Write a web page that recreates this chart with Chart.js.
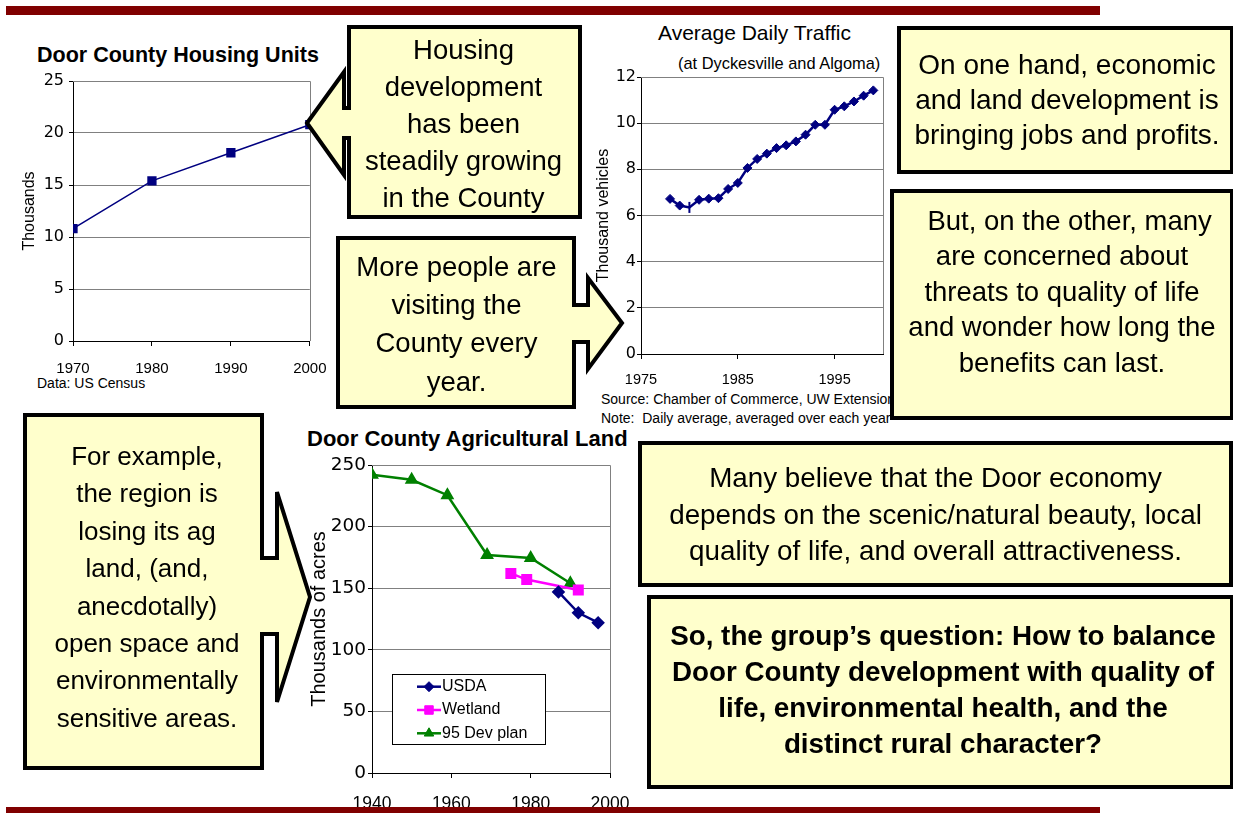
<!DOCTYPE html>
<html lang="en">
<head>
    <meta charset="UTF-8">
    <title>Door County Development</title>
    <script src="https://cdn.jsdelivr.net/npm/chart.js@4"></script>
    <style>
        body {
            margin: 0;
            width: 1233px;
            height: 813px;
            overflow: hidden;
            background: #fff;
            position: relative;
            font-family: 'Liberation Sans', Arial, sans-serif;
            color: #000;
        }
        canvas, .lbl, .txt, .bar, svg { position: absolute; }
        canvas { z-index: 1; }
        .lbl { z-index: 1; white-space: pre; line-height: 1; }
        svg { left: 0; top: 0; z-index: 2; }
        .txt { z-index: 3; text-align: center; white-space: nowrap; }
        .bar { z-index: 4; background: #800000; left: 6px; width: 1094px; }
    </style>
</head>
<body>
    <div class="bar" style="top:6px; height:9px"></div>
    <div class="bar" style="top:807px; height:6px"></div>

    <!-- chart titles and notes -->
    <div class="lbl" style="left:37px; top:45px; font-size:21.5px; font-weight:bold">Door County Housing Units</div>
    <div class="lbl" style="left:37px; top:376px; font-size:14px">Data: US Census</div>
    <div class="lbl" style="left:658px; top:22px; font-size:21px">Average Daily Traffic</div>
    <div class="lbl" style="left:678px; top:55px; font-size:16.4px">(at Dyckesville and Algoma)</div>
    <div class="lbl" style="left:601px; top:392px; font-size:14px">Source: Chamber of Commerce, UW Extension</div>
    <div class="lbl" style="left:601px; top:410.5px; font-size:14px">Note:  Daily average, averaged over each year</div>
    <div class="lbl" style="left:307px; top:428px; font-size:22px; font-weight:bold">Door County Agricultural Land</div>

    <canvas id="housingChart" width="340" height="340" style="left:0; top:60px"></canvas>
    <canvas id="trafficChart" width="310" height="380" style="left:590px; top:20px"></canvas>
    <canvas id="agChart" width="355" height="363" style="left:290px; top:450px"></canvas>

    <!-- callout shapes -->
    <svg width="1233" height="813">
        <g fill="#FFFFCC" stroke="#000" stroke-width="4" stroke-linejoin="miter">
            <path d="M349,27 H580 V217 H349 V138 H344 V175 L307,123 L344,72 V108 H349 Z"/>
            <path d="M338,238 H574 V305 H588 V278 L622,323 L588,369 V342 H574 V407 H338 Z"/>
            <path d="M25,415 H262 V558 H277 V492 L310,597 L277,702 V634 H262 V768 H25 Z"/>
            <rect x="899" y="28" width="333" height="144"/>
            <rect x="892" y="191" width="340" height="227"/>
            <rect x="640" y="443" width="591" height="142"/>
            <rect x="649" y="597" width="583" height="190"/>
        </g>
    </svg>

    <div class="txt" style="left:263.5px; top:30.5px; width:400px; font-size:27.5px; line-height:37px">Housing<br>development<br>has been<br>steadily growing<br>in the County</div>
    <div class="txt" style="left:256.5px; top:248px; width:400px; font-size:27.5px; line-height:38.2px">More people are<br>visiting the<br>County every<br>year.</div>
    <div class="txt" style="left:867px; top:46.5px; width:400px; font-size:28px; line-height:35px">On one hand, economic<br>and land development is<br>bringing jobs and profits.</div>
    <div class="txt" style="left:862px; top:203px; width:400px; font-size:27.5px; line-height:35.4px">&nbsp;&nbsp;But, on the other, many<br>are concerned about<br>threats to quality of life<br>and wonder how long the<br>benefits can last.</div>
    <div class="txt" style="left:-53px; top:438px; width:400px; font-size:26px; line-height:37.4px">For example,<br>the region is<br>losing its ag<br>land, (and,<br>anecdotally)<br>open space and<br>environmentally<br>sensitive areas.</div>
    <div class="txt" style="left:635.5px; top:460px; width:600px; font-size:27.8px; line-height:36.5px">Many believe that the Door economy<br>depends on the scenic/natural beauty, local<br>quality of life, and overall attractiveness.</div>
    <div class="txt" style="left:643px; top:618px; width:600px; font-size:27.8px; line-height:36px; font-weight:bold">So, the group’s question: How to balance<br>Door County development with quality of<br>life, environmental health, and the<br>distinct rural character?</div>

    <script>
        // Housing units (thousands)
        const housingYears = [1970, 1980, 1990, 2000];
        const housingUnits = [10.8, 15.4, 18.1, 20.8];
        const housingXTicks = [1970, 1980, 1990, 2000];
        const housingYTicks = [0, 5, 10, 15, 20, 25];

        // Average daily traffic (thousand vehicles)
        const trafficYears = [1978, 1979, 1980, 1981, 1982, 1983, 1984, 1985, 1986, 1987, 1988,
                              1989, 1990, 1991, 1992, 1993, 1994, 1995, 1996, 1997, 1998, 1999];
        const trafficVehicles = [6.72, 6.43, 6.35, 6.68, 6.73, 6.75, 7.15, 7.41, 8.06, 8.45, 8.68,
                                 8.92, 9.04, 9.21, 9.50, 9.93, 9.93, 10.58, 10.73, 10.94, 11.19, 11.42];
        const trafficXRange = [1975, 2000];
        const trafficXTicks = [1975, 1985, 1995];
        const trafficYTicks = [0, 2, 4, 6, 8, 10, 12];

        // Agricultural land (thousands of acres)
        const agSeries = ['USDA', 'Wetland', '95 Dev plan'];
        const usdaYears = [1987, 1992, 1997];
        const usdaAcres = [147, 130, 122];
        const wetlandYears = [1975, 1979, 1992];
        const wetlandAcres = [162, 157, 148.5];
        const devPlanYears = [1940, 1950, 1959, 1969, 1980, 1990];
        const devPlanAcres = [242, 238, 225.5, 177, 174.5, 154];
        const agXTicks = [1940, 1960, 1980, 2000];
        const agYTicks = [0, 50, 100, 150, 200, 250];

        const SANS = "'Liberation Sans', Arial, sans-serif";
        const WIDE = "'DejaVu Sans', sans-serif";
        const GRID = '#808080';

        Chart.defaults.font.family = SANS;
        Chart.defaults.color = '#000';
        Chart.defaults.animation = false;

        const pts = (xs, ys) => xs.map((x, i) => ({ x: x, y: ys[i] }));
        const fixTicks = values => axis => { axis.ticks = values.map(v => ({ value: v })); };

        // gray frame on top and right of the plot area (Excel style)
        const plotFrame = {
            id: 'plotFrame',
            beforeDatasetsDraw(chart) {
                const { ctx, chartArea: a } = chart;
                ctx.save();
                ctx.strokeStyle = GRID;
                ctx.lineWidth = 1;
                ctx.beginPath();
                ctx.moveTo(a.left, Math.round(a.top) + 0.5);
                ctx.lineTo(Math.round(a.right) + 0.5, Math.round(a.top) + 0.5);
                ctx.lineTo(Math.round(a.right) + 0.5, a.bottom);
                ctx.stroke();
                ctx.restore();
            }
        };

        // boxed legend inside the plot, line sample with marker in the middle
        const boxLegend = {
            id: 'boxLegend',
            afterDatasetsDraw(chart, args, opts) {
                if (!opts.show) return;
                const { ctx, chartArea } = chart;
                const x = Math.round(chartArea.left + opts.x), y = Math.round(chartArea.top + opts.y);
                ctx.save();
                ctx.fillStyle = '#fff';
                ctx.fillRect(x, y, opts.w, opts.h);
                ctx.strokeStyle = '#000';
                ctx.lineWidth = 1;
                ctx.strokeRect(x + 0.5, y + 0.5, opts.w, opts.h);
                ctx.font = opts.font;
                ctx.textBaseline = 'middle';
                chart.data.datasets.forEach((ds, i) => {
                    const cy = y + opts.rowTop + i * opts.rowGap;
                    ctx.strokeStyle = ds.borderColor;
                    ctx.lineWidth = ds.borderWidth;
                    ctx.beginPath();
                    ctx.moveTo(x + 25, cy);
                    ctx.lineTo(x + 49, cy);
                    ctx.stroke();
                    ctx.fillStyle = ds.pointBackgroundColor;
                    ctx.strokeStyle = ds.pointBorderColor;
                    ctx.lineWidth = 1;
                    Chart.helpers.drawPoint(ctx, { pointStyle: ds.pointStyle, radius: ds.pointRadius, rotation: 0, borderWidth: 1 }, x + 37, cy);
                    ctx.fillStyle = '#000';
                    ctx.fillText(ds.label, x + 50, cy);
                });
                ctx.restore();
            }
        };

        function xAxis(ticks, range, font, padding, height) {
            return {
                type: 'linear',
                min: range[0],
                max: range[1],
                afterBuildTicks: fixTicks(ticks),
                afterFit: axis => { axis.height = height; },
                ticks: { font: font, padding: padding, maxRotation: 0, autoSkip: false, callback: v => String(v) },
                grid: { color: 'transparent', tickColor: '#000', tickLength: 5 },
                border: { color: '#000' }
            };
        }

        function yAxis(ticks, font, padding, width, title) {
            return {
                min: ticks[0],
                max: ticks[ticks.length - 1],
                afterBuildTicks: fixTicks(ticks),
                afterFit: axis => { axis.width = width; },
                ticks: { font: font, padding: padding, callback: v => String(v) },
                grid: { color: c => (c.tick && c.tick.value === ticks[0]) ? '#000' : GRID, tickColor: '#000', tickLength: 4 },
                border: { color: '#000' },
                title: title
            };
        }

        new Chart(document.getElementById('housingChart'), {
            type: 'line',
            data: {
                datasets: [{
                    label: 'Housing units',
                    data: pts(housingYears, housingUnits),
                    borderColor: '#000080',
                    borderWidth: 1.5,
                    pointStyle: 'rect',
                    pointRadius: 5.5,
                    pointBackgroundColor: '#000080',
                    pointBorderColor: '#000080',
                    tension: 0
                }]
            },
            options: {
                responsive: false,
                layout: { padding: { left: 0, top: 21, right: 18, bottom: 0 } },
                plugins: { legend: { display: false }, tooltip: { enabled: false } },
                scales: {
                    x: xAxis(housingXTicks, [housingXTicks[0], housingXTicks[housingXTicks.length - 1]], { size: 15 }, 13.5, 59),
                    y: yAxis(housingYTicks, { family: WIDE, size: 16 }, 5, 73,
                        { display: true, text: 'Thousands', font: { size: 16 }, padding: { top: 20, bottom: 0 } })
                }
            },
            plugins: [plotFrame]
        });

        new Chart(document.getElementById('trafficChart'), {
            type: 'line',
            data: {
                datasets: [{
                    label: 'Average daily traffic',
                    data: pts(trafficYears, trafficVehicles),
                    borderColor: '#000080',
                    borderWidth: 2.5,
                    pointStyle: trafficYears.map(y => y === 1980 ? 'line' : 'rectRot'),
                    pointRotation: trafficYears.map(y => y === 1980 ? 90 : 0),
                    pointRadius: trafficYears.map(y => y === 1980 ? 5.5 : 4.5),
                    pointBorderWidth: trafficYears.map(y => y === 1980 ? 2 : 1),
                    pointBackgroundColor: '#000080',
                    pointBorderColor: '#000080',
                    tension: 0
                }]
            },
            options: {
                responsive: false,
                layout: { padding: { left: 0, top: 57, right: 17, bottom: 0 } },
                plugins: { legend: { display: false }, tooltip: { enabled: false } },
                scales: {
                    x: xAxis(trafficXTicks, trafficXRange, { size: 14.5 }, 12, 46),
                    y: yAxis(trafficYTicks, { family: WIDE, size: 16 }, 1, 51,
                        { display: true, text: 'Thousand vehicles', font: { size: 16 }, padding: { top: 3.5, bottom: 0 } })
                }
            },
            plugins: [plotFrame]
        });

        new Chart(document.getElementById('agChart'), {
            type: 'line',
            data: {
                datasets: [
                    {
                        label: agSeries[0],
                        data: pts(usdaYears, usdaAcres),
                        borderColor: '#000080',
                        borderWidth: 2.5,
                        pointStyle: 'rectRot',
                        pointRadius: 5,
                        pointBackgroundColor: '#000080',
                        pointBorderColor: '#000080'
                    },
                    {
                        label: agSeries[1],
                        data: pts(wetlandYears, wetlandAcres),
                        borderColor: '#FF00FF',
                        borderWidth: 2.5,
                        pointStyle: 'rect',
                        pointRadius: 6,
                        pointBackgroundColor: '#FF00FF',
                        pointBorderColor: '#FF00FF'
                    },
                    {
                        label: agSeries[2],
                        data: pts(devPlanYears, devPlanAcres),
                        borderColor: '#008000',
                        borderWidth: 2.5,
                        pointStyle: 'triangle',
                        pointRadius: 5.5,
                        pointBackgroundColor: '#008000',
                        pointBorderColor: '#008000'
                    }
                ]
            },
            options: {
                responsive: false,
                layout: { padding: { left: 0, top: 15, right: 23.3, bottom: 0 } },
                plugins: {
                    legend: { display: false },
                    tooltip: { enabled: false },
                    boxLegend: { show: true, x: 20, y: 209, w: 153, h: 70, rowTop: 12.7, rowGap: 23.3, font: '16px ' + SANS }
                },
                scales: {
                    x: xAxis(agXTicks, [agXTicks[0], agXTicks[agXTicks.length - 1]], { size: 17.5 }, 15.5, 40),
                    y: yAxis(agYTicks, { family: WIDE, size: 18.5 }, 2, 82,
                        { display: true, text: 'Thousands of acres', font: { size: 20 }, padding: { top: 17, bottom: 0 } })
                }
            },
            plugins: [plotFrame, boxLegend]
        });
    </script>
</body>
</html>
